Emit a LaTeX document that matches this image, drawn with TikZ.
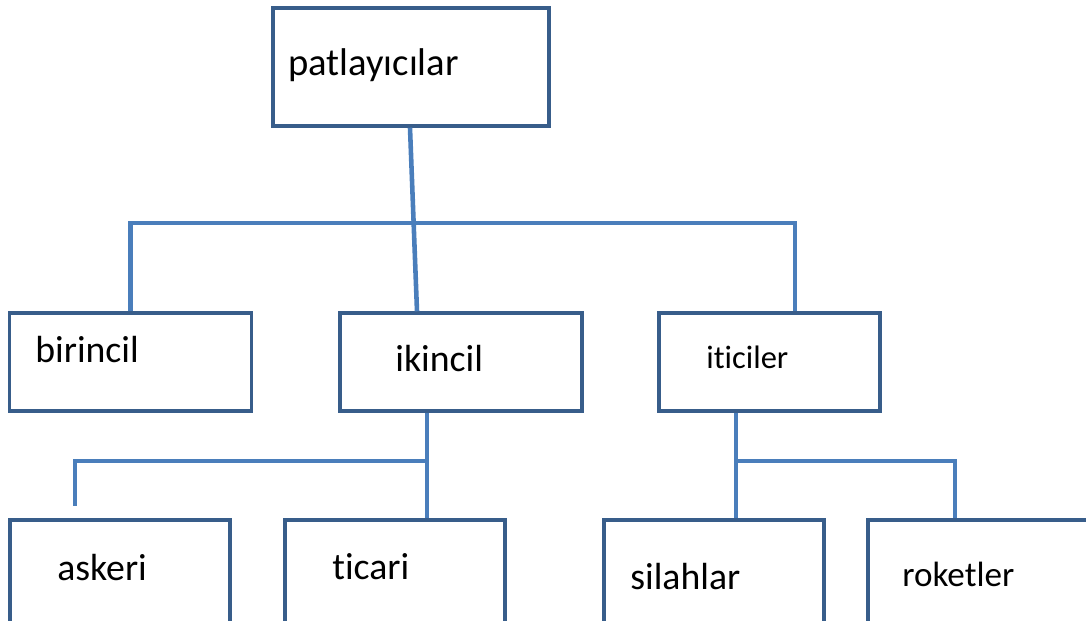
\documentclass[tikz,border=0pt]{standalone}
\usepackage{fontspec}
\setmainfont{Carlito}[Ligatures=NoCommon]
\usetikzlibrary{calc}

\definecolor{boxblue}{RGB}{56,93,138}
\definecolor{linkblue}{RGB}{74,126,187}

\tikzset{
  box/.style={draw=boxblue, line width=2pt, rectangle, inner sep=0pt},
  topbox/.style={box, minimum width=5.52cm, minimum height=2.36cm},
  midbox/.style={box, minimum width=4.84cm, minimum height=1.96cm},
  lowbox/.style={box, minimum width=4.4cm, minimum height=2.6cm},
  link/.style={draw=linkblue, line width=2.6pt},
  lbl/.style={anchor=base west, inner sep=0pt, font=\fontsize{21.5}{24}\selectfont},
  small/.style={font=\fontsize{18.5}{22}\selectfont}
}

\begin{document}
\begin{tikzpicture}[x=0.02cm, y=-0.02cm]

  \useasboundingbox (0,0) rectangle (1086,620);
  \clip (0,0) rectangle (1086,620);

  % boxes
  \node[topbox] (top) at (411,67) {};
  \node[midbox] (birincil) at (130.5,362) {};
  \node[midbox] (ikincil) at (461,362) {};
  \node[midbox, minimum width=4.42cm] (iticiler) at (769.5,362) {};
  \node[lowbox] (askeri) at (120,585) {};
  \node[lowbox] (ticari) at (395,585) {};
  \node[lowbox] (silahlar) at (714,585) {};
  \node[lowbox, minimum width=4.6cm] (roketler) at (983,585) {};

  % texts
  \node[lbl, font=\fontsize{22}{26}\selectfont] (lpat) at (288,75) {patlayıcılar};
  \node[lbl] (lbir) at (35,362) {birincil};
  \node[lbl] (likin) at (395,371) {ikincil};
  \node[lbl, small] (litic) at (706,368) {iticiler};
  \node[lbl] (lask) at (57,580) {askeri};
  \node[lbl] (ltic) at (332,579) {ticari};
  \node[lbl] (lsil) at (630,589) {silahlar};
  \node[lbl, font=\fontsize{20}{24}\selectfont] (lrok) at (902,586) {roketler};

  % connectors
  \coordinate (bus1) at (413,223);
  \draw[link] ($(top.south)+(-1,0)$) -- ($(ikincil.north)+(-44,0)$);
  \draw[link] (birincil.north) |- (bus1) -| ($(iticiler.north)+(25.5,0)$);

  \coordinate (bus2) at (427,461);
  \draw[link] ($(ikincil.south)+(-34,0)$) -- ($(ticari.north)+(32,0)$);
  \draw[link] (bus2) -| ($(askeri.north)+(-45,-12)$);

  \coordinate (bus3) at (736,461);
  \draw[link] ($(iticiler.south)+(-33.5,0)$) -- ($(silahlar.north)+(22,0)$);
  \draw[link] (bus3) -| ($(roketler.north)+(-28,0)$);

\end{tikzpicture}
\end{document}
